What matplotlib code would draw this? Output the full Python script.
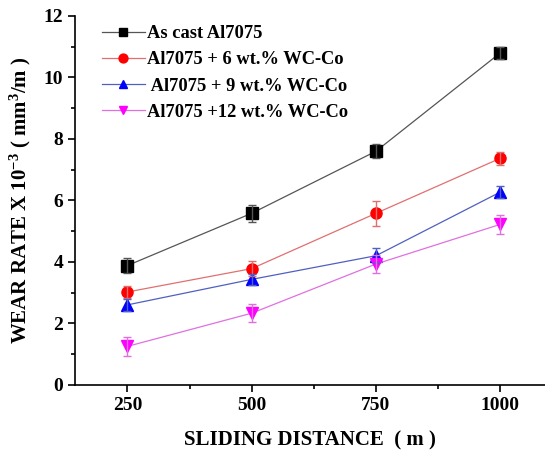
import matplotlib
matplotlib.use("Agg")
import numpy as np
from matplotlib import pyplot as plt
from matplotlib.ticker import MultipleLocator

distance = [250, 500, 750, 1000]
labels = ["As cast Al7075", "Al7075 + 6 wt.% WC-Co", " Al7075 + 9 wt.% WC-Co", "Al7075 +12 wt.% WC-Co"]
wear = [
    [3.88, 5.58, 7.60, 10.80],
    [3.02, 3.78, 5.58, 7.37],
    [2.60, 3.43, 4.20, 6.27],
    [1.25, 2.33, 3.93, 5.22],
]
errors = [
    [0.25, 0.28, 0.22, 0.20],
    [0.20, 0.25, 0.40, 0.22],
    [0.20, 0.18, 0.25, 0.20],
    [0.32, 0.30, 0.28, 0.30],
]
marker_colors = ["black", "red", "blue", "magenta"]
line_colors = ["#555555", "#e07070", "#5060c0", "#e070e0"]
markers = ["s", "o", "^", "v"]

plt.rcParams['font.family'] = ['Liberation Serif', 'DejaVu Serif']
plt.rcParams['font.weight'] = 'bold'
plt.rcParams['mathtext.default'] = 'regular'

fig = plt.figure(figsize=(5.45, 4.57), dpi=100)
ax = fig.add_axes([0.138, 0.158, 0.862, 0.807])

for y, e, mc, lc, m, lab in zip(wear, errors, marker_colors, line_colors, markers, labels):
    ax.plot(distance, y, color=lc, marker=m, markersize=8, markerfacecolor=mc,
            markeredgecolor=mc, linewidth=0.9, label=lab, zorder=2)
    ax.errorbar(distance, y, yerr=e, fmt='none', ecolor=lc, elinewidth=1, capsize=3, zorder=3)

ax.set_xlim(145, 1090)
ax.set_ylim(0, 12)
ax.set_xticks(distance)
ax.xaxis.set_minor_locator(MultipleLocator(125))
ax.yaxis.set_major_locator(MultipleLocator(2))
ax.yaxis.set_minor_locator(MultipleLocator(1))
ax.tick_params(which='major', direction='out', length=5, width=1.2, labelsize=14)
ax.tick_params(which='minor', direction='out', length=3, width=1.2)
for lab in ax.get_xticklabels() + ax.get_yticklabels():
    lab.set_fontweight('bold')
ax.spines['top'].set_visible(False)
ax.spines['right'].set_visible(False)
ax.spines['left'].set_linewidth(1.2)
ax.spines['bottom'].set_linewidth(1.2)

ax.set_xlabel("SLIDING DISTANCE  ( m )", fontsize=15, fontweight='bold', labelpad=12)
ax.set_ylabel("WEAR RATE X 10$^{-3}$ ( mm$^{3}$/m )", fontsize=15, fontweight='bold', labelpad=8)

leg = ax.legend(loc='upper left', bbox_to_anchor=(0.03, 1.01), frameon=False,
                fontsize=13.3, handlelength=2.3, handletextpad=0.15, labelspacing=0.5,
                borderaxespad=0.3, markerscale=0.8)
for t in leg.get_texts():
    t.set_fontweight('bold')

fig.savefig("out.png", dpi=100)
